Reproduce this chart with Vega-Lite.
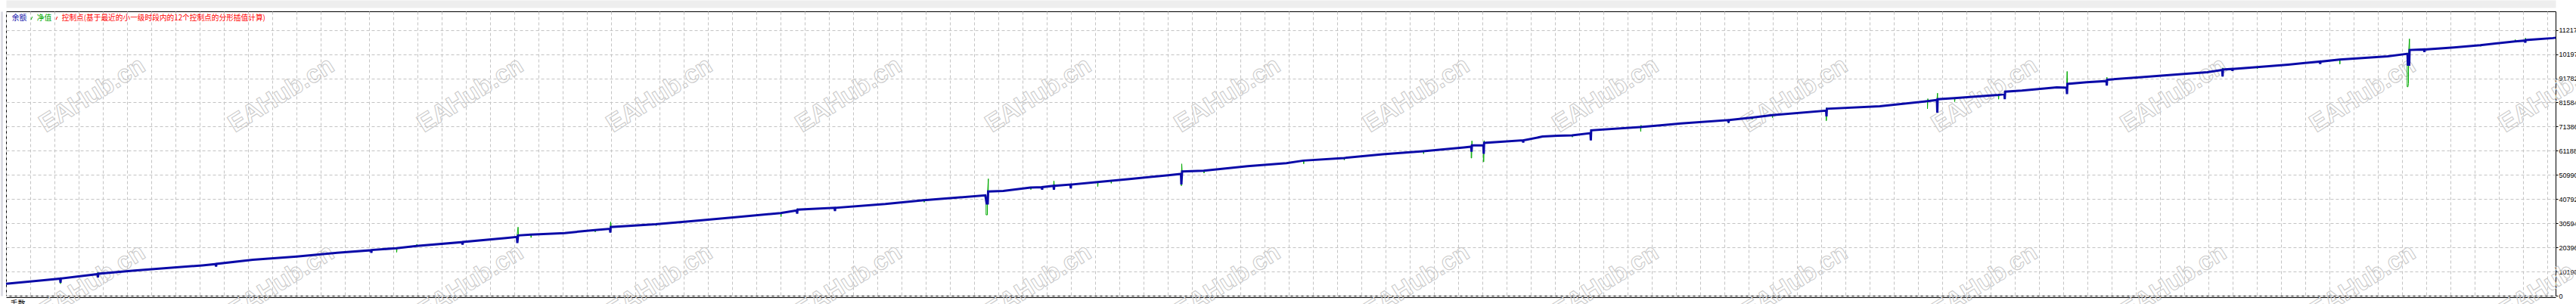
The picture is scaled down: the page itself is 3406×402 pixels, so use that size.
{
"$schema":"https://vega.github.io/schema/vega-lite/v6.json",
"width":3371,"height":376,
"autosize":{"type":"none"},
"padding":{"left":8,"top":15,"right":27,"bottom":11},
"background":"white",
"config":{"view":{"stroke":"black","strokeWidth":1}},
"resolve":{"axis":{"x":"independent","y":"independent"}},
"datasets":{
"wm":[{"t":114,"v":84766},{"t":364,"v":84766},{"t":614,"v":84766},{"t":864,"v":84766},{"t":1114,"v":84766},{"t":1365,"v":84766},{"t":1615,"v":84766},{"t":1865,"v":84766},{"t":2115,"v":84766},{"t":2365,"v":84766},{"t":2616,"v":84766},{"t":2866,"v":84766},{"t":3116,"v":84766},{"t":3366,"v":84766},
{"t":114,"v":5758},{"t":364,"v":5758},{"t":614,"v":5758},{"t":864,"v":5758},{"t":1114,"v":5758},{"t":1365,"v":5758},{"t":1615,"v":5758},{"t":1865,"v":5758},{"t":2115,"v":5758},{"t":2365,"v":5758},{"t":2616,"v":5758},{"t":2866,"v":5758},{"t":3116,"v":5758},{"t":3366,"v":5758}],
"bal":[{"t":0,"v":5022},{"t":45.1,"v":6397},{"t":71.5,"v":7197},{"t":72,"v":5438},{"t":72.5,"v":7261},{"t":121,"v":9116},{"t":121.5,"v":7677},{"t":122,"v":9276},{"t":170.1,"v":10652},{"t":205.5,"v":11515},{"t":259.5,"v":12795},{"t":277.2,"v":13339},{"t":277.7,"v":12251},{"t":278.2,"v":13435},{"t":326.3,"v":15130},{"t":384.4,"v":16537},{"t":437.9,"v":18137},{"t":482.5,"v":19192},{"t":483,"v":18137},{"t":483.5,"v":19288},{"t":516.1,"v":20056},{"t":542.8,"v":21016},{"t":603.1,"v":22615},{"t":603.6,"v":21527},{"t":604.1,"v":22681},{"t":661.1,"v":24310},{"t":675.5,"v":24790},{"t":676,"v":22231},{"t":677,"v":25430},{"t":693.8,"v":25813},{"t":738.5,"v":26453},{"t":778.5,"v":27733},{"t":798.5,"v":28244},{"t":799,"v":26645},{"t":799.5,"v":29012},{"t":859,"v":30164},{"t":917,"v":31763},{"t":961.5,"v":33043},{"t":1024.2,"v":34866},{"t":1045.5,"v":35985},{"t":1046,"v":34642},{"t":1046.5,"v":36305},{"t":1095.5,"v":37105},{"t":1096,"v":35730},{"t":1096.5,"v":37105},{"t":1162.5,"v":38704},{"t":1213.5,"v":40304},{"t":1251.5,"v":41263},{"t":1294.8,"v":42383},{"t":1296.5,"v":38928},{"t":1298,"v":38928},{"t":1298.5,"v":43982},{"t":1318.5,"v":44238},{"t":1354.5,"v":45645},{"t":1369.4,"v":45837},{"t":1369.9,"v":44782},{"t":1370.4,"v":45837},{"t":1385,"v":46381},{"t":1385.5,"v":44782},{"t":1386,"v":46381},{"t":1407.3,"v":46925},{"t":1407.8,"v":45326},{"t":1408.3,"v":46925},{"t":1443,"v":47981},{"t":1485.5,"v":49260},{"t":1539,"v":50955},{"t":1553.5,"v":51403},{"t":1554,"v":46925},{"t":1555,"v":52459},{"t":1583.5,"v":52779},{"t":1641.5,"v":54698},{"t":1693,"v":55977},{"t":1715.3,"v":57033},{"t":1768.9,"v":58121},{"t":1820.3,"v":59720},{"t":1873.8,"v":60999},{"t":1927.4,"v":62599},{"t":1937.2,"v":62918},{"t":1937.7,"v":60775},{"t":1938.2,"v":63430},{"t":1953.3,"v":63430},{"t":1953.8,"v":59912},{"t":1954.3,"v":64518},{"t":2005.5,"v":65573},{"t":2006,"v":64614},{"t":2006.5,"v":65573},{"t":2031.5,"v":67173},{"t":2051.5,"v":67493},{"t":2070.5,"v":67717},{"t":2094.9,"v":68612},{"t":2095.4,"v":65573},{"t":2095.9,"v":69828},{"t":2161,"v":71235},{"t":2190,"v":71971},{"t":2214.5,"v":72707},{"t":2277,"v":74114},{"t":2277.5,"v":73026},{"t":2278,"v":74114},{"t":2308.3,"v":75169},{"t":2335.1,"v":76225},{"t":2406.5,"v":78145},{"t":2407,"v":75713},{"t":2407.5,"v":78912},{"t":2477.5,"v":79968},{"t":2540.5,"v":82111},{"t":2553,"v":82622},{"t":2553.5,"v":77313},{"t":2554,"v":82942},{"t":2576.1,"v":83390},{"t":2634.2,"v":84766},{"t":2642.2,"v":85085},{"t":2642.7,"v":82942},{"t":2643.2,"v":86141},{"t":2665.5,"v":86589},{"t":2711.5,"v":87964},{"t":2724.5,"v":87804},{"t":2725,"v":85085},{"t":2725.5,"v":89404},{"t":2750.9,"v":90108},{"t":2777.1,"v":90619},{"t":2777.6,"v":88700},{"t":2778.1,"v":91163},{"t":2820.5,"v":92218},{"t":2886.5,"v":93818},{"t":2910.5,"v":94362},{"t":2930.2,"v":95321},{"t":2930.7,"v":92538},{"t":2931.2,"v":95481},{"t":2943.3,"v":95737},{"t":2943.8,"v":94905},{"t":2944.3,"v":95737},{"t":2976.2,"v":96505},{"t":3017.5,"v":97560},{"t":3059.3,"v":98840},{"t":3059.8,"v":97880},{"t":3060.3,"v":98840},{"t":3085.5,"v":99703},{"t":3148.9,"v":101079},{"t":3175.2,"v":102134},{"t":3175.7,"v":97560},{"t":3177.5,"v":97560},{"t":3178,"v":103734},{"t":3197.1,"v":103958},{"t":3197.6,"v":102902},{"t":3198.1,"v":103958},{"t":3236.5,"v":104821},{"t":3271.5,"v":105781},{"t":3317.3,"v":107380},{"t":3330.5,"v":107700},{"t":3331,"v":106837},{"t":3331.5,"v":107956},{"t":3367.5,"v":108756},{"t":3371,"v":108916}],
"eq":[{"t":0,"v":5022},{"t":45.1,"v":6397},{"t":71.5,"v":7197},{"t":72,"v":5022},{"t":72.5,"v":7261},{"t":121,"v":9116},{"t":121.3,"v":9916},{"t":121.6,"v":9276},{"t":170.1,"v":10652},{"t":205.5,"v":11515},{"t":259.5,"v":12795},{"t":277.2,"v":13339},{"t":326.3,"v":15130},{"t":384.4,"v":16537},{"t":437.9,"v":18137},{"t":482.5,"v":19192},{"t":516.1,"v":20056},{"t":516.5,"v":18329},{"t":517,"v":20056},{"t":542.8,"v":21016},{"t":543.2,"v":21751},{"t":543.6,"v":21016},{"t":603.1,"v":22615},{"t":661.1,"v":24310},{"t":675.5,"v":24790},{"t":677,"v":28948},{"t":677.5,"v":25430},{"t":693.8,"v":25813},{"t":694.2,"v":24534},{"t":694.6,"v":25813},{"t":738.5,"v":26453},{"t":778.5,"v":27733},{"t":779,"v":26869},{"t":779.5,"v":27733},{"t":798.5,"v":28244},{"t":799.5,"v":31123},{"t":800,"v":29012},{"t":859,"v":30164},{"t":859.5,"v":29524},{"t":860,"v":30164},{"t":917,"v":31763},{"t":961.5,"v":33043},{"t":1024.2,"v":34866},{"t":1024.7,"v":33362},{"t":1025.2,"v":34866},{"t":1045.5,"v":35985},{"t":1046.5,"v":36785},{"t":1047,"v":36305},{"t":1095.5,"v":37105},{"t":1162.5,"v":38704},{"t":1213.5,"v":40304},{"t":1214,"v":39440},{"t":1214.5,"v":40304},{"t":1251.5,"v":41263},{"t":1295.8,"v":42383},{"t":1295.8,"v":34130},{"t":1297.5,"v":34130},{"t":1297.5,"v":42383},{"t":1298.8,"v":49356},{"t":1298.8,"v":43982},{"t":1318.5,"v":44238},{"t":1354.5,"v":45645},{"t":1355,"v":44782},{"t":1355.5,"v":45645},{"t":1369.4,"v":45837},{"t":1385,"v":46381},{"t":1385.5,"v":48524},{"t":1386,"v":46381},{"t":1407.3,"v":46925},{"t":1443,"v":47981},{"t":1443.5,"v":46061},{"t":1444,"v":47981},{"t":1460.9,"v":48520},{"t":1461.3,"v":47436},{"t":1461.7,"v":48520},{"t":1485.5,"v":49260},{"t":1539,"v":50955},{"t":1553.5,"v":51403},{"t":1554,"v":46381},{"t":1554.5,"v":55657},{"t":1555,"v":52459},{"t":1583.5,"v":52779},{"t":1584,"v":51723},{"t":1584.5,"v":52779},{"t":1641.5,"v":54698},{"t":1693,"v":55977},{"t":1715.3,"v":57033},{"t":1715.8,"v":55657},{"t":1716.3,"v":57033},{"t":1768.9,"v":58121},{"t":1769.4,"v":57257},{"t":1769.9,"v":58121},{"t":1820.3,"v":59720},{"t":1873.8,"v":60999},{"t":1874.3,"v":59912},{"t":1874.8,"v":60999},{"t":1927.4,"v":62599},{"t":1937.2,"v":62918},{"t":1937.2,"v":58121},{"t":1937.8,"v":58121},{"t":1938.2,"v":65349},{"t":1938.4,"v":63430},{"t":1953.3,"v":63430},{"t":1953.3,"v":56521},{"t":1953.9,"v":56521},{"t":1954.3,"v":65477},{"t":1954.5,"v":64518},{"t":2005.5,"v":65573},{"t":2031.5,"v":67173},{"t":2051.5,"v":67493},{"t":2070.5,"v":67717},{"t":2071,"v":66949},{"t":2071.5,"v":67717},{"t":2094.9,"v":68612},{"t":2095.5,"v":70147},{"t":2095.9,"v":69828},{"t":2161,"v":71235},{"t":2161.4,"v":69316},{"t":2161.8,"v":71971},{"t":2162.2,"v":71235},{"t":2190,"v":71971},{"t":2214.5,"v":72707},{"t":2277,"v":74114},{"t":2277.5,"v":72800},{"t":2278,"v":74114},{"t":2308.3,"v":75169},{"t":2308.8,"v":74434},{"t":2309.3,"v":75169},{"t":2335.1,"v":76225},{"t":2335.6,"v":75169},{"t":2336.1,"v":76225},{"t":2406.5,"v":78145},{"t":2406.5,"v":73890},{"t":2407,"v":73890},{"t":2407.3,"v":79424},{"t":2407.5,"v":78912},{"t":2477.5,"v":79968},{"t":2540.5,"v":82111},{"t":2540.5,"v":78912},{"t":2540.9,"v":82111},{"t":2541,"v":83166},{"t":2541.3,"v":82111},{"t":2553,"v":82622},{"t":2553.8,"v":85502},{"t":2554,"v":82942},{"t":2576.1,"v":83390},{"t":2576.5,"v":81887},{"t":2577,"v":83390},{"t":2634.2,"v":84766},{"t":2634.6,"v":82942},{"t":2635,"v":84766},{"t":2642.2,"v":85085},{"t":2643.2,"v":86141},{"t":2665.5,"v":86589},{"t":2711.5,"v":87964},{"t":2724.5,"v":87804},{"t":2725.2,"v":94682},{"t":2725.5,"v":89404},{"t":2750.9,"v":90108},{"t":2777.1,"v":90619},{"t":2777.8,"v":92218},{"t":2778.1,"v":91163},{"t":2820.5,"v":92218},{"t":2886.5,"v":93818},{"t":2910.5,"v":94362},{"t":2911,"v":93818},{"t":2911.5,"v":94362},{"t":2930.2,"v":95321},{"t":2930.8,"v":92538},{"t":2931,"v":96185},{"t":2931.2,"v":95481},{"t":2943.3,"v":95737},{"t":2976.2,"v":96505},{"t":2976.6,"v":95737},{"t":2977,"v":96505},{"t":3017.5,"v":97560},{"t":3059.3,"v":98840},{"t":3085.5,"v":99703},{"t":3085.8,"v":97784},{"t":3086.1,"v":99703},{"t":3148.9,"v":101079},{"t":3174.8,"v":102134},{"t":3174.8,"v":88188},{"t":3175.8,"v":88188},{"t":3176.5,"v":89564},{"t":3176.5,"v":102000},{"t":3177.8,"v":108436},{"t":3178,"v":103734},{"t":3197.1,"v":103958},{"t":3236.5,"v":104821},{"t":3271.5,"v":105781},{"t":3272,"v":105237},{"t":3272.5,"v":105781},{"t":3317.3,"v":107380},{"t":3317.7,"v":108116},{"t":3318.1,"v":107380},{"t":3330.5,"v":107700},{"t":3331.2,"v":108756},{"t":3331.5,"v":107956},{"t":3367.5,"v":108756},{"t":3371,"v":108916}]
},
"layer":[
{"data":{"name":"wm"},
 "mark":{"type":"text","angle":-32,"font":"Liberation Sans","fontWeight":"bold","fontSize":33,"fill":"transparent","stroke":"#c8c8c8","strokeWidth":1,"align":"center","baseline":"middle"},
 "encoding":{
  "x":{"field":"t","type":"quantitative","scale":{"domain":[0,3371],"nice":false,"zero":false},"axis":null},
  "y":{"field":"v","type":"quantitative","scale":{"domain":[0,120050],"nice":false},"axis":null},
  "text":{"value":"EAHub.cn"}}},
{"data":{"name":"eq"},
 "mark":{"type":"line","strokeWidth":1},
 "encoding":{
  "x":{"field":"t","type":"quantitative","scale":{"domain":[0,3371],"nice":false,"zero":false},
   "axis":{"orient":"bottom","values":[0,32,64,96,128,160,192,224,256,288,320,352,384,416,448,480,512,544,576,608,640,672,704,736,768,800,832,864,896,928,960,992,1024,1056,1088,1120,1152,1184,1216,1248,1280,1312,1344,1376,1408,1440,1472,1504,1536,1568,1600,1632,1664,1696,1728,1760,1792,1824,1856,1888,1920,1952,1984,2016,2048,2080,2112,2144,2176,2208,2240,2272,2304,2336,2368,2400,2432,2464,2496,2528,2560,2592,2624,2656,2688,2720,2752,2784,2816,2848,2880,2912,2944,2976,3008,3040,3072,3104,3136,3168,3200,3232,3264,3296,3328,3360],
    "grid":true,"gridColor":"#c4c4c4","gridDash":[4,3],"gridWidth":1,"ticks":false,"labels":false,"domain":true,"domainColor":"black","domainWidth":1,"offset":2,
    "title":"手数","titleFont":"Noto Sans CJK SC","titleFontSize":10,"titleFontWeight":"normal","titleColor":"black","titleAnchor":"start","titleAlign":"left","titleBaseline":"middle","titleX":5,"titleY":8}},
  "y":{"field":"v","type":"quantitative","scale":{"domain":[0,120050],"nice":false},
   "axis":{"orient":"right","values":[0,10198,20396,30594,40792,50990,61188,71386,81584,91782,101979,112177],"format":"d",
    "grid":true,"gridColor":"#c4c4c4","gridDash":[4,3],"gridWidth":1,"domain":false,"ticks":true,"tickSize":3,"tickColor":"black",
    "labelFont":"Liberation Sans","labelFontSize":9,"labelColor":"black","labelPadding":1,"labelOverlap":false,"labelFlush":false,"title":null}},
  "color":{"datum":"净值",
   "scale":{"domain":["余额","净值","控制点(基于最近的小一级时段内的12个控制点的分形插值计算)"],"range":["#0a0aa8","#00aa00","#ff0000"]},
   "legend":{"orient":"none","legendX":-4,"legendY":4,"direction":"horizontal","title":null,"padding":0,"offset":0,
    "symbolType":"M0.2,-0.5L-0.2,0.5","symbolSize":64,"symbolStrokeWidth":1,"symbolStrokeColor":"black","symbolFillColor":"transparent",
    "labelFont":"Noto Sans CJK SC","labelFontSize":9.7,"labelLimit":500,"labelOffset":2,"columnPadding":1,"rowPadding":0,
    "encode":{"symbols":{"update":{"stroke":{"value":"#333333"},"fill":{"value":"transparent"},"strokeWidth":{"value":1},"opacity":{"signal":"datum.value === '余额' ? 0 : 1"}}},
              "labels":{"update":{"fill":{"scale":"color","field":"value"}}}}}},
  "order":{"value":null}}},
{"data":{"name":"bal"},
 "mark":{"type":"line","strokeWidth":3},
 "encoding":{
  "x":{"field":"t","type":"quantitative","scale":{"domain":[0,3371],"nice":false,"zero":false},
   "axis":{"orient":"top","grid":false,"ticks":false,"labels":false,"domain":true,"domainColor":"#eeeeee","domainWidth":10,"offset":10,"title":null}},
  "y":{"field":"v","type":"quantitative","scale":{"domain":[0,120050],"nice":false},
   "axis":{"orient":"left","grid":false,"ticks":false,"labels":false,"domain":true,"domainColor":"#dcdce4","domainWidth":3,"offset":6,"title":null}},
  "color":{"datum":"余额"},
  "order":{"value":null}}}
]
}
